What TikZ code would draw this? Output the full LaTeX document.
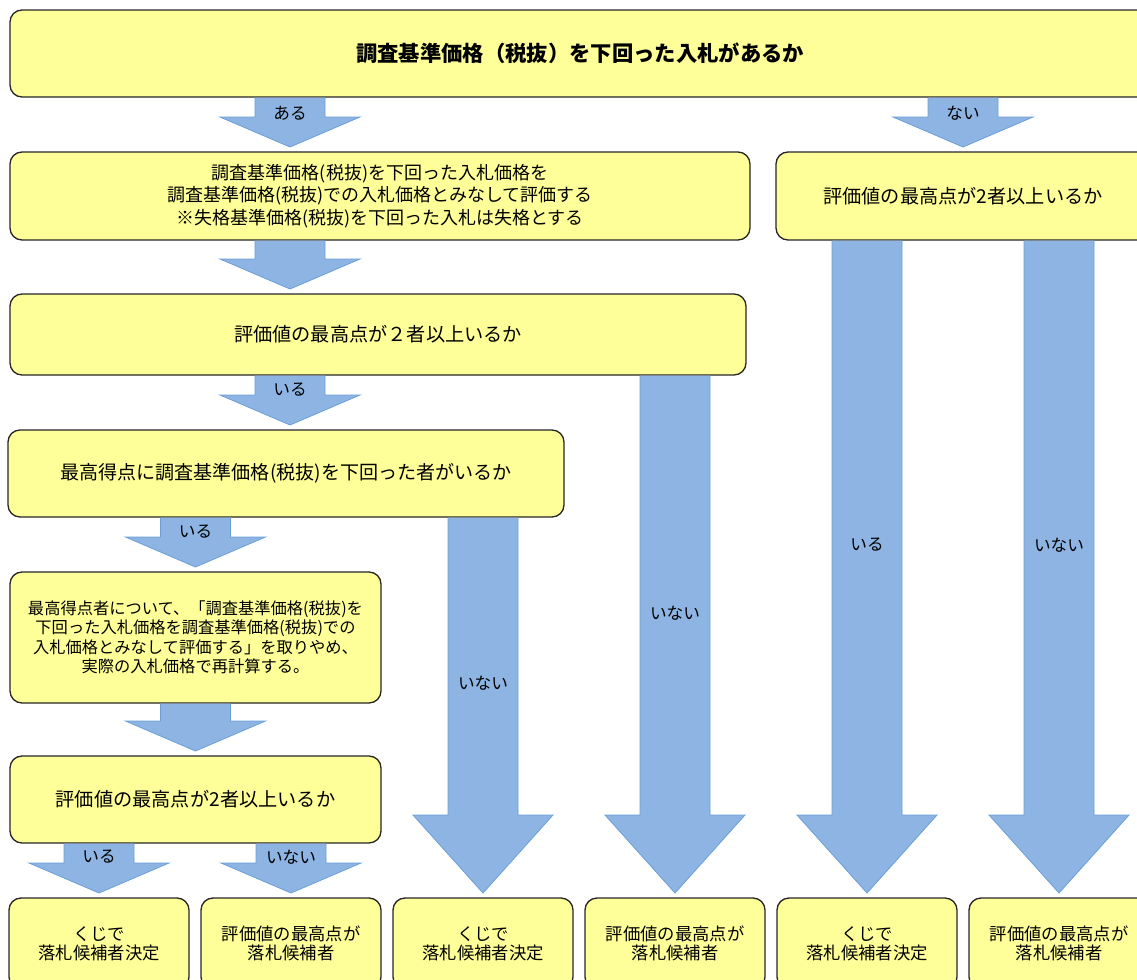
\documentclass[tikz,border=0pt]{standalone}
\usepackage{fontspec}
\setmainfont{Noto Sans CJK JP}
\usepackage{xcolor}
\usepackage{tikz}
\usetikzlibrary{calc, positioning}
\definecolor{boxyellow}{HTML}{FFFF99}
\definecolor{arrowblue}{HTML}{8DB4E2}
\definecolor{arrowedge}{HTML}{6A9FD8}
\newcommand{\flowarrow}[6]{%
  \draw [flow] let \p1 = (#1.south -| #3), \p2 = (#2.north -| #3) in
    (\x1-26.25pt,\y1-0.5pt) -- (\x1-26.25pt,\y2+#4) -- (\x1-52.5pt,\y2+#4)
    -- (\x1,\y2+3.75pt) -- (\x1+52.5pt,\y2+#4) -- (\x1+26.25pt,\y2+#4)
    -- (\x1+26.25pt,\y1-0.5pt);
  \if\relax\detokenize{#5}\relax\else
    \node [lab] at ($(#1.south -| #3)+(0,#6)$) {#5};
  \fi}

\begin{document}
\begin{tikzpicture}[x=0.75pt, y=-0.75pt,
    qbox/.style={draw=black!85, line width=1pt, fill=boxyellow, rounded corners=9pt,
      align=center, inner sep=0pt, outer sep=0pt},
    flow/.style={draw=arrowedge, line width=0.6pt, fill=arrowblue},
    lab/.style={font=\fontsize{12.5}{15}\selectfont, inner sep=0pt},
    endbox/.style={qbox, minimum width=135pt, minimum height=68.25pt,
      font=\fontsize{13}{14.6}\selectfont}]
%flow
                \useasboundingbox (0,0) rectangle (1137,979);
                \clip (0,0) rectangle (1137,979);
                \node [qbox, minimum width=855pt, minimum height=65.25pt,
                  font=\bfseries\fontsize{16}{20}\selectfont] (s0) at (580,53.5)
                  {調査基準価格（税抜）を下回った入札があるか};
                \node [qbox, minimum width=555pt, minimum height=66pt,
                  font=\fontsize{13.5}{16.9}\selectfont] (e1) at (380,196)
                  {調査基準価格(税抜)を下回った入札価格を\\調査基準価格(税抜)での入札価格とみなして評価する\\※失格基準価格(税抜)を下回った入札は失格とする};
                \node [qbox, minimum width=280.5pt, minimum height=66pt,
                  font=\fontsize{14.4}{18}\selectfont] (n1) at (963,196)
                  {評価値の最高点が2者以上いるか};
                \node [qbox, minimum width=552pt, minimum height=60.75pt,
                  font=\fontsize{14.4}{18}\selectfont] (t1) at (378,334.5)
                  {評価値の最高点が２者以上いるか};
                \node [qbox, minimum width=417pt, minimum height=65.25pt,
                  font=\fontsize{14.3}{18}\selectfont] (c1) at (286,473.5)
                  {最高得点に調査基準価格(税抜)を下回った者がいるか};
                \node [qbox, minimum width=278.25pt, minimum height=98.25pt,
                  font=\fontsize{12.2}{14.6}\selectfont] (r1) at (195.5,637.5)
                  {最高得点者について、「調査基準価格(税抜)を\\下回った入札価格を調査基準価格(税抜)での\\入札価格とみなして評価する」を取りやめ、\\実際の入札価格で再計算する。};
                \node [qbox, minimum width=278.25pt, minimum height=65.25pt,
                  font=\fontsize{14.4}{18}\selectfont] (t2) at (195.5,799.5)
                  {評価値の最高点が2者以上いるか};
                \node [endbox] (d1) at (99,943.5) {くじで\\落札候補者決定};
                \node [endbox, right=9pt of d1] (d2) {評価値の最高点が\\落札候補者};
                \node [endbox, right=9pt of d2] (d3) {くじで\\落札候補者決定};
                \node [endbox, right=9pt of d3] (d4) {評価値の最高点が\\落札候補者};
                \node [endbox, right=9pt of d4] (d5) {くじで\\落札候補者決定};
                \node [endbox, right=9pt of d5] (d6) {評価値の最高点が\\落札候補者};
                \coordinate (colA) at (290,0);
                \flowarrow{s0}{e1}{colA}{26.25pt}{ある}{16}
                \flowarrow{s0}{n1}{n1}{26.25pt}{ない}{16}
                \flowarrow{e1}{t1}{colA}{26.25pt}{}{0}
                \flowarrow{t1}{c1}{colA}{26.25pt}{いる}{15}
                \flowarrow{c1}{r1}{r1}{26.25pt}{いる}{15}
                \flowarrow{r1}{t2}{t2}{26.25pt}{}{0}
                \flowarrow{t2}{d1}{d1}{26.25pt}{いる}{14}
                \flowarrow{t2}{d2}{d2}{26.25pt}{いない}{14}
                \flowarrow{c1}{d3}{d3}{62.25pt}{いない}{166}
                \flowarrow{t1}{d4}{d4}{62.25pt}{いない}{238}
                \flowarrow{n1}{d5}{d5}{62.25pt}{いる}{305}
                \flowarrow{n1}{d6}{d6}{62.25pt}{いない}{305}
\end{tikzpicture}
\end{document}
